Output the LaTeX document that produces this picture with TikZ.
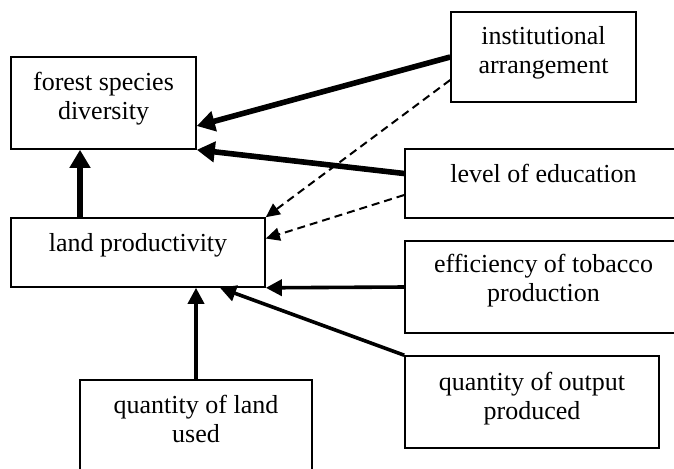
\documentclass[tikz,border=0pt]{standalone}
\usepackage{fontspec}
\setmainfont{Liberation Serif}
\usetikzlibrary{arrows.meta}
\tikzset{
  box/.style={draw, line width=0.8pt, inner sep=0pt},
  lbl/.style={anchor=north, inner sep=0pt, align=center, font=\fontsize{13}{14.2}\selectfont},
  bigarrow/.style={line width=2.8pt, -{Triangle[length=9pt,width=10pt]}},
  midarrow/.style={line width=1.8pt, -{Triangle[length=8pt,width=8pt]}},
  dasharrow/.style={line width=1pt, dash pattern=on 4pt off 2.5pt, -{Triangle[length=7pt,width=6.5pt]}}
}
\begin{document}
\begin{tikzpicture}[x=0.5pt, y=-0.5pt]
    \useasboundingbox (0,0) rectangle (674,468);
    % boxes
    \node[box, minimum width=92.5pt, minimum height=46pt] (fsd) at (103.5,103) {};
    \node[box, minimum width=127pt, minimum height=34.5pt] (lp) at (138,252.5) {};
    \node[box, minimum width=92.5pt, minimum height=45pt] (ia) at (543.5,57) {};
    \node[box, minimum width=138.5pt, minimum height=34.5pt] (le) at (543.5,183.5) {};
    \node[box, minimum width=138.5pt, minimum height=46pt] (eff) at (543.5,287) {};
    \node[box, minimum width=127pt, minimum height=46pt] (qo) at (532,402) {};
    \node[box, minimum width=116pt, minimum height=46pt] (ql) at (196,426) {};
    % texts
    \node[lbl] (fsdtext) at ([yshift=-8pt]fsd.north) {forest species\\diversity};
    \node[lbl] (lptext) at ([yshift=-8pt]lp.north) {land productivity};
    \node[lbl] (iatext) at ([yshift=-7.5pt]ia.north) {institutional\\arrangement};
    \node[lbl] (letext) at ([yshift=-8pt]le.north) {level of education};
    \node[lbl] (efftext) at ([yshift=-7pt]eff.north) {efficiency of tobacco\\production};
    \node[lbl] (qotext) at ([yshift=-8.5pt]qo.north) {quantity of output\\produced};
    \node[lbl] (qltext) at ([yshift=-8pt]ql.north) {quantity of land\\used};
    % connectors
    \coordinate (fsdin) at ([xshift=-11.75pt]fsd.south);
    \draw[bigarrow] (ia.west) -- ([yshift=-11.5pt]fsd.east);
    \draw[bigarrow] ([yshift=5pt]le.west) -- (fsd.south east);
    \draw[bigarrow] (fsdin |- lp.north) -- (fsdin);
    \draw[dasharrow] ([yshift=-11.5pt]ia.west) -- (lp.north east);
    \draw[dasharrow] ([yshift=-5.75pt]le.west) -- ([yshift=7pt]lp.east);
    \draw[midarrow] (eff.west) -- (lp.south east);
    \draw[midarrow] (qo.north west) -- ([xshift=41pt]lp.south);
    \draw[midarrow] (ql.north) -- (ql.north |- lp.south);
\end{tikzpicture}
\end{document}
